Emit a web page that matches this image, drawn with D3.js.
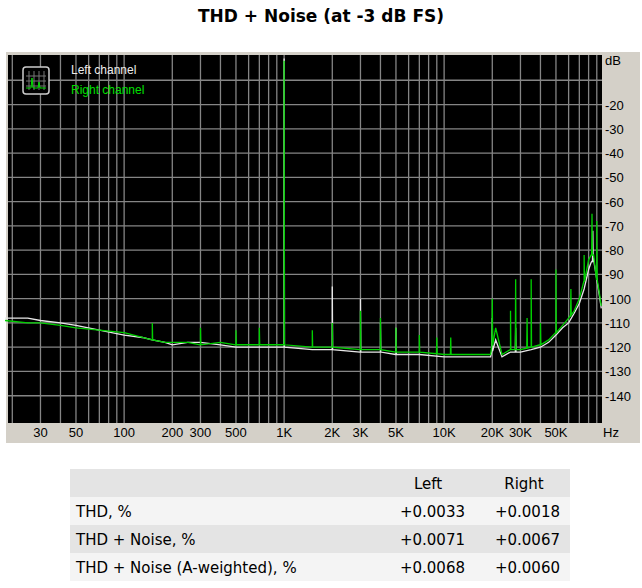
<!DOCTYPE html>
<html><head><meta charset="utf-8">
<script src="https://cdn.jsdelivr.net/npm/d3@7"></script>
<style>body{margin:0;background:#fff;font-family:Verdana,"DejaVu Sans",sans-serif}</style>
</head><body><svg id="c" width="642" height="588"></svg>
<script>
// noise floor, left (white) and right (green)
const floorFreq = [18,25,30,40,50,70,100,130,150,180,200,250,300,400,500,700,1000,1500,2000,3000,4000,5000,7000,10000,15000,19500,21000,23000,26000,30000,35000,40000,45000,50000,55000,60000,65000,70000,75000,80000,83000,86000,90000,93000,96000];
const floorLeft = [-108,-108,-109,-110,-111,-113,-115,-116,-117,-118,-119,-118,-118,-119,-120,-120,-120,-121,-121,-122,-122,-123,-123,-124,-124,-124,-117,-124,-122,-122,-121,-120,-118,-115,-112,-110,-106,-102,-96,-88,-85,-84,-92,-98,-104];
const floorRight = [-109,-110,-110,-111,-112,-113,-114,-116,-117,-118,-118,-118,-119,-118,-119,-119,-119,-120,-120,-121,-121,-122,-122,-123,-123,-123,-112,-123,-121,-121,-120,-119,-117,-114,-111,-108,-105,-100,-93,-84,-82,-82,-92,-97,-103];
// harmonic / spur peaks [freq, dB]
const spikesLeft = [[1000,-1],[2000,-95],[3000,-100],[4000,-110],[5000,-112],[20000,-108],[28000,-112],[85000,-72]];
const spikesRight = [[150,-110],[300,-112],[500,-113],[700,-112],[1000,-2],[1500,-113],[2000,-110],[3000,-105],[4000,-108],[5000,-112],[7000,-115],[9000,-116],[11000,-116],[20000,-100],[26000,-105],[28000,-92],[33000,-108],[35000,-92],[40000,-110],[50000,-88],[62000,-96],[75000,-82],[84000,-65],[90000,-68]];
const yTicks = [-20,-30,-40,-50,-60,-70,-80,-90,-100,-110,-120,-130,-140];
const xTicks = [[30,"30"],[50,"50"],[100,"100"],[200,"200"],[300,"300"],[500,"500"],[1000,"1K"],[2000,"2K"],[3000,"3K"],[5000,"5K"],[10000,"10K"],[20000,"20K"],[30000,"30K"],[50000,"50K"]];
const tableHead = ["", "Left", "Right"];
const tableRows = [["THD, %","+0.0033","+0.0018"],["THD + Noise, %","+0.0071","+0.0067"],["THD + Noise (A-weighted), %","+0.0068","+0.0060"]];

const svg = d3.select("#c");
svg.append("text").attr("x",321).attr("y",22).attr("text-anchor","middle")
  .attr("font-weight","bold").attr("font-size",17).text("THD + Noise (at -3 dB FS)");

// frame
svg.append("rect").attr("x",6).attr("y",52).attr("width",634).attr("height",391).attr("fill","#d4d0c8");
const L=8, R=602, T=55, B=423;
svg.append("rect").attr("x",L).attr("y",T).attr("width",R-L).attr("height",B-T).attr("fill","#000");

const x = d3.scaleLog().domain([18.8,97000]).range([L,R]);
const y = d3.scaleLinear().domain([0,-150]).range([T+1,B-3]);

const g = svg.append("g");
const grid=[];
for (let d=10; d<=100000; d*=10) for (let k=1;k<10;k++){const f=d*k; if(f>=20&&f<=96000) grid.push(f);}
g.selectAll(".vg").data(grid).join("line").attr("x1",d=>x(d)).attr("x2",d=>x(d))
  .attr("y1",T).attr("y2",B).attr("stroke","#858585").attr("stroke-width",1.3);
g.selectAll(".hg").data(d3.range(-10,-150,-10)).join("line").attr("x1",L).attr("x2",R)
  .attr("y1",d=>y(d)).attr("y2",d=>y(d)).attr("stroke","#858585").attr("stroke-width",1.3);

function series(fr, fl, sp){
  const pts = fr.map((f,i)=>[f,fl[i]]);
  const base = f => d3.scaleLog().domain(fr).range(fl)(f);
  sp.forEach(([f,v])=>{ const b=base(f); pts.push([f*0.995,b],[f,v],[f*1.005,b]); });
  return pts.sort((a,b)=>a[0]-b[0]);
}
const line = d3.line().x(d=>x(d[0])).y(d=>y(d[1]));
svg.append("path").attr("d",line(series(floorFreq,floorLeft,spikesLeft))).attr("fill","none").attr("stroke","#e8e8e8").attr("stroke-width",1.3);
svg.append("path").attr("d",line(series(floorFreq,floorRight,spikesRight))).attr("fill","none").attr("stroke","#00d000").attr("stroke-width",1.3);

// axis labels
const lab = svg.append("g").attr("font-family","Arial, 'Liberation Sans', sans-serif").attr("font-size",13).attr("fill","#000");
lab.selectAll(".yl").data(yTicks).join("text").attr("x",605).attr("y",d=>y(d)+5).text(d=>d);
lab.append("text").attr("x",605).attr("y",65).text("dB");
lab.selectAll(".xl").data(xTicks).join("text").attr("x",d=>x(d[0])).attr("y",437).attr("text-anchor","middle").text(d=>d[1]);
lab.append("text").attr("x",611).attr("y",437).attr("text-anchor","middle").text("Hz");

// legend
const lg = svg.append("g").attr("font-family","Arial, 'Liberation Sans', sans-serif").attr("font-size",12);
lg.append("rect").attr("x",23).attr("y",67).attr("width",26).attr("height",27).attr("rx",3).attr("fill","#000").attr("stroke","#ccc").attr("stroke-width",1.5);
[29,34,39,44].forEach(v=>lg.append("line").attr("x1",v).attr("x2",v).attr("y1",71).attr("y2",90).attr("stroke","#777"));
[76,81,86].forEach(v=>lg.append("line").attr("x1",26).attr("x2",46).attr("y1",v).attr("y2",v).attr("stroke","#777"));
lg.append("path").attr("d","M26,88L31,88L32,78L33,88L38,88L39,82L40,88L46,88").attr("fill","none").attr("stroke","#00e000");
lg.append("text").attr("x",71).attr("y",74).attr("fill","#eee").text("Left channel");
lg.append("text").attr("x",71).attr("y",94).attr("fill","#00e000").text("Right channel");

// table
const tx=70, tw=500, rh=28, ty=469;
const cols=[[76,"start"],[465,"end"],[560,"end"]];
[tableHead,...tableRows].forEach((row,i)=>{
  svg.append("rect").attr("x",tx).attr("y",ty+i*rh).attr("width",tw).attr("height",rh)
    .attr("fill", i%2===0 ? "#e4e4e4" : "#f4f4f4");
  row.forEach((c,j)=>{
    const t = svg.append("text").attr("y",ty+i*rh+20).attr("font-size",15);
    if(i===0){ t.attr("x",[0,428,524][j]).attr("text-anchor","middle"); }
    else t.attr("x",cols[j][0]).attr("text-anchor",cols[j][1]);
    t.text(c);
  });
});
</script></body></html>
